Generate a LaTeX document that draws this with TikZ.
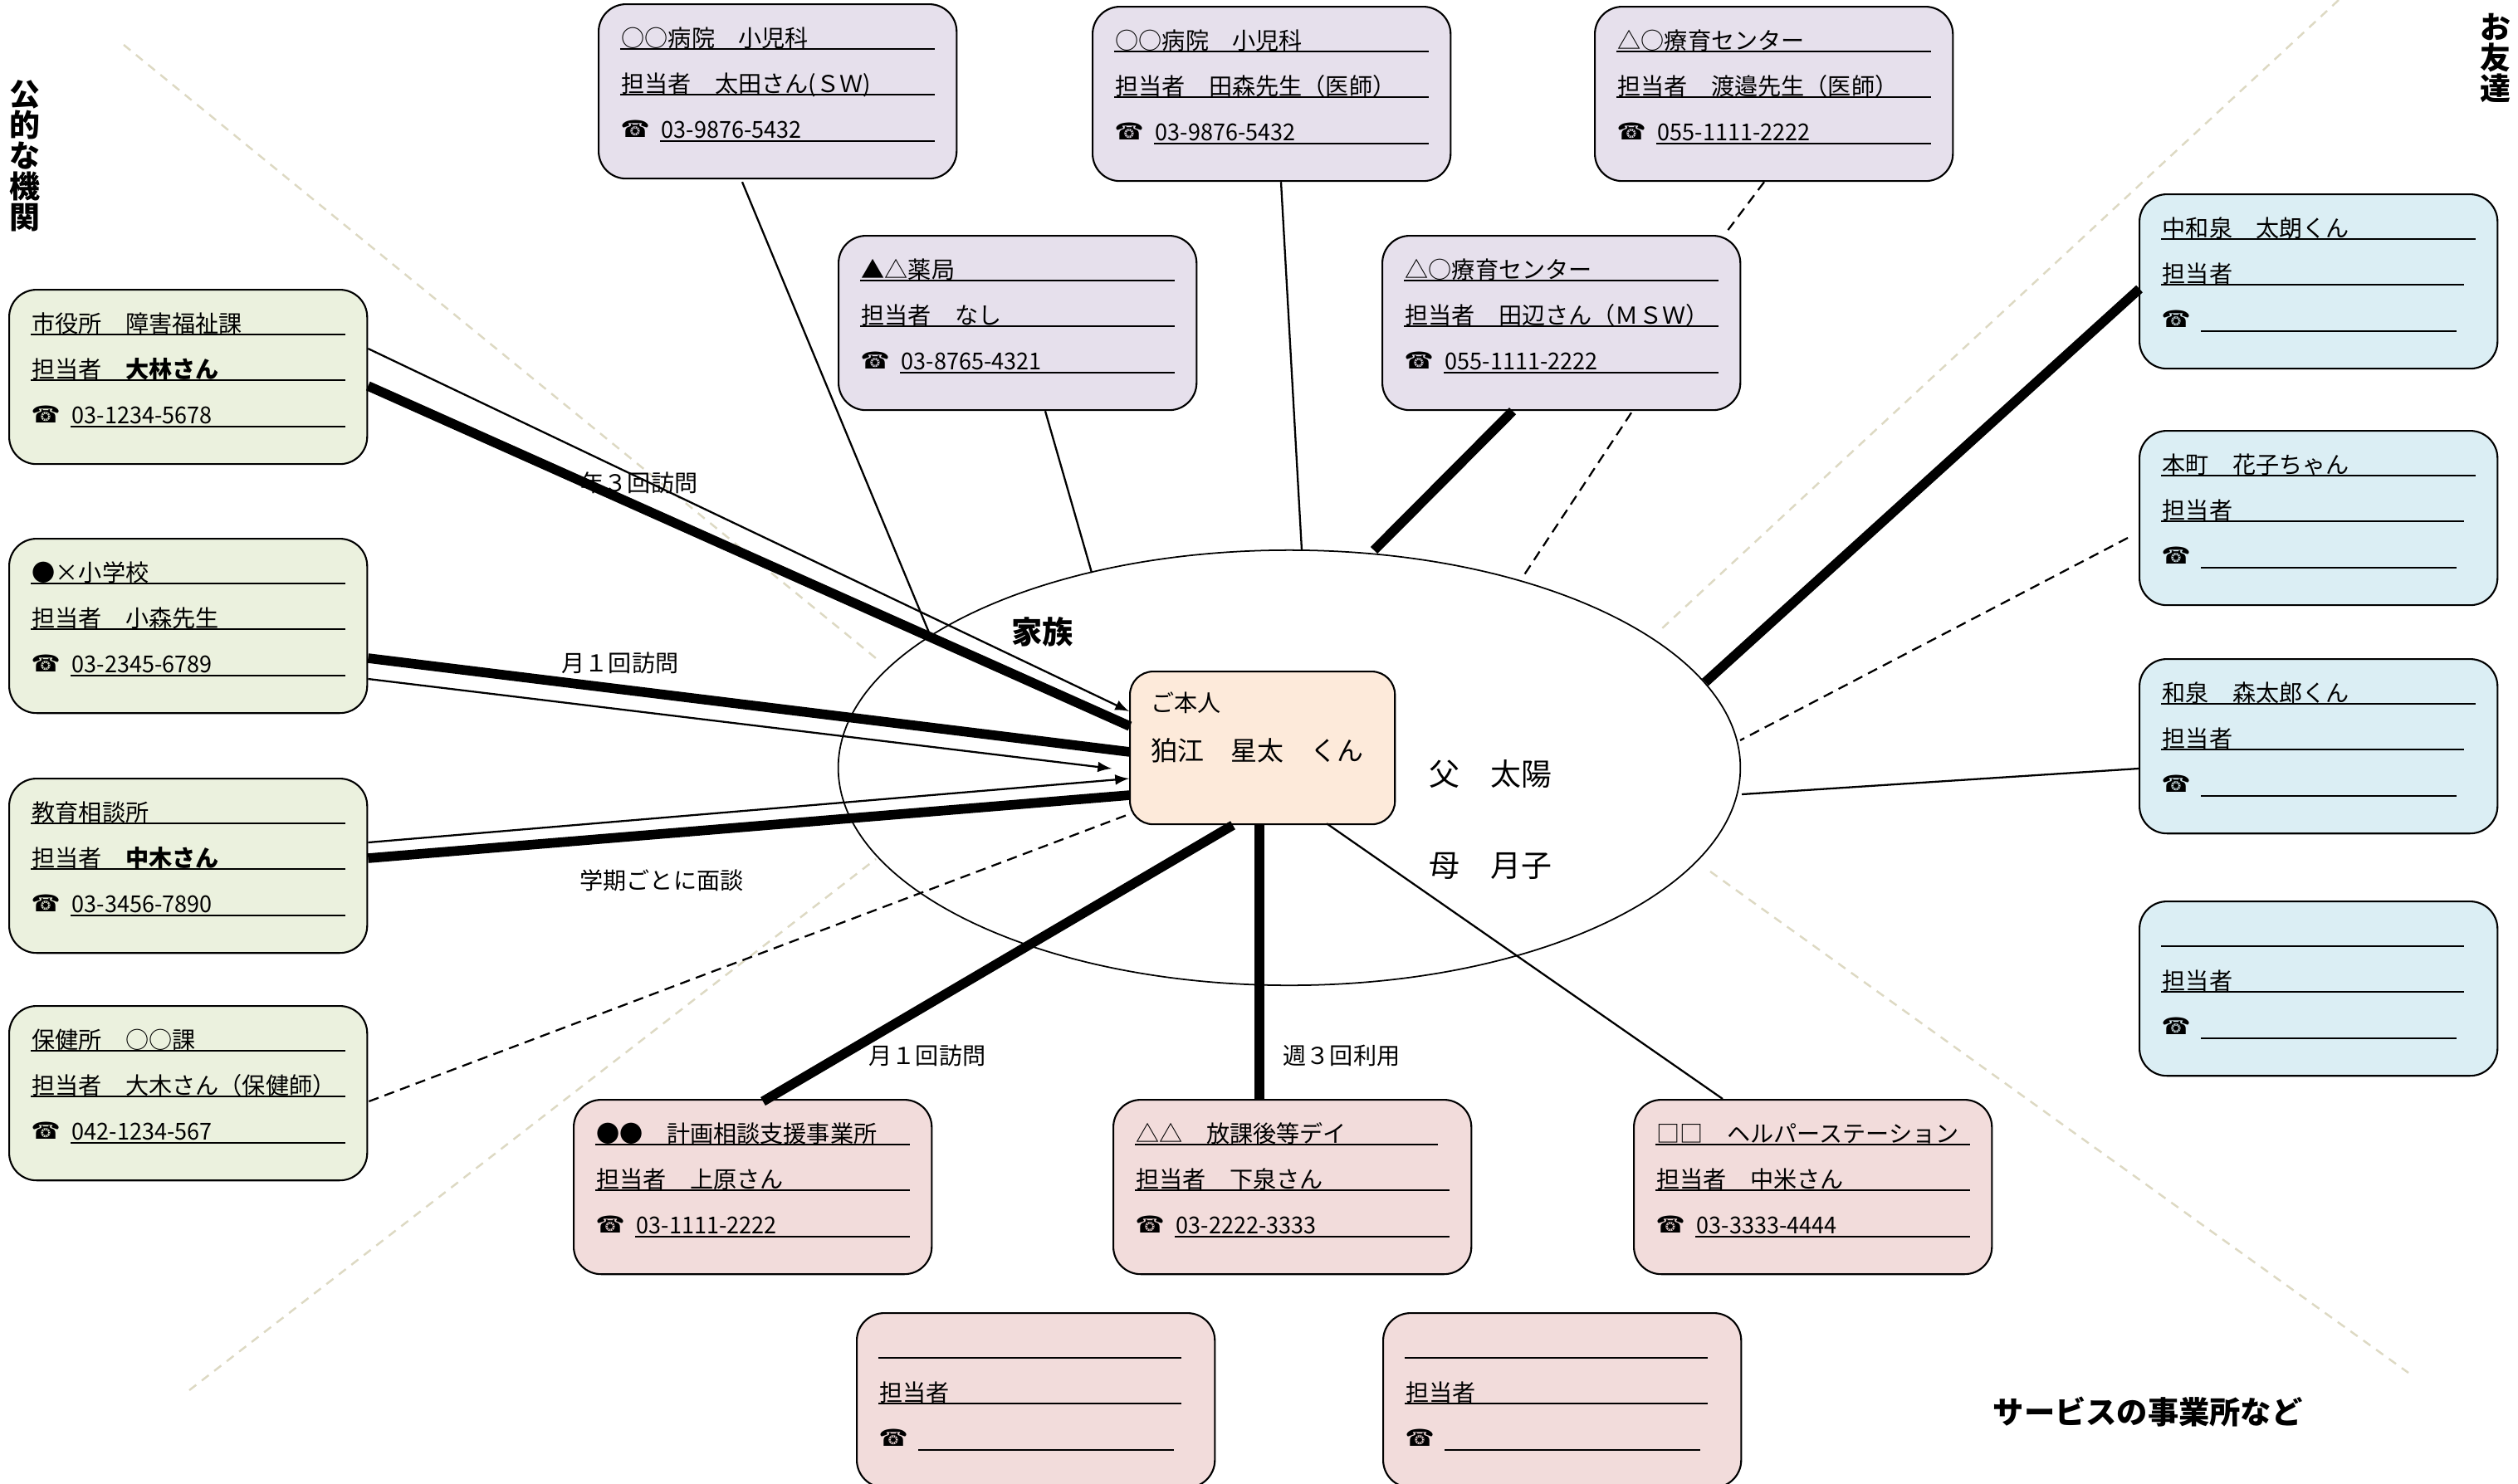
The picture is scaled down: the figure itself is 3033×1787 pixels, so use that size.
\documentclass[tikz,border=0pt]{standalone}
\usepackage{fontspec}
\setmainfont{Noto Sans CJK JP}
\newfontfamily\symfont{DejaVu Sans}
\newfontfamily\telfont[FakeStretch=0.96]{Noto Sans CJK JP}
\usetikzlibrary{shapes.geometric}

\definecolor{kouteki}{HTML}{EBF1DE}
\definecolor{iryou}{HTML}{E6E0EC}
\definecolor{tomo}{HTML}{DBEEF4}
\definecolor{jigyou}{HTML}{F2DCDB}
\definecolor{honnincol}{HTML}{FDEADA}
\definecolor{sen}{HTML}{DDD9C3}

\tikzset{
    card/.style={draw, rounded corners=0.33cm, anchor=north west, inner sep=0pt, line width=0.6pt,
        minimum width=4.31cm, minimum height=2.1cm},
    rowtext/.style={anchor=base west, inner sep=0pt, font=\fontsize{8pt}{10pt}\selectfont},
    rowline/.style={line width=0.6pt},
    bigtext/.style={anchor=base west, inner sep=0pt, font=\fontsize{10.5pt}{12pt}\selectfont},
    headtext/.style={anchor=base west, inner sep=0pt, font=\fontsize{10.6pt}{12pt}\selectfont\bfseries},
    sidetext/.style={anchor=north, inner sep=0pt, align=center, font=\fontsize{10.5pt}{10.5pt}\selectfont\bfseries},
    linktext/.style={inner sep=0pt, font=\fontsize{8pt}{10pt}\selectfont},
    thinlink/.style={line width=0.65pt},
    thicklink/.style={line width=3.3pt},
    dashlink/.style={line width=0.65pt, dash pattern=on 3.5pt off 2.2pt},
    arrowlink/.style={line width=0.65pt, ->, >=latex},
    divider/.style={draw=sen, line width=0.7pt, dash pattern=on 3pt off 2.4pt}
}

% name, position, colour, row 1, row 2, phone, lengths of the three rules
\newcommand{\contact}[9]{
    \node[card, fill=#3] (#1) at (#2) {};
    \node[rowtext] (#1-a) at ([shift={(28,52)}]#1.north west) {#4};
    \node[rowtext] (#1-b) at ([shift={(28,107)}]#1.north west) {#5};
    \node[rowtext] (#1-tel) at ([shift={(27,161)}]#1.north west) {\symfont ☎};
    \node[rowtext] (#1-c) at ([shift={(76,162)}]#1.north west) {\telfont #6};
    \draw[rowline] ([shift={(27,55)}]#1.north west) -- ++(#7,0);
    \draw[rowline] ([shift={(27,110)}]#1.north west) -- ++(#8,0);
    \draw[rowline] ([shift={(75,166)}]#1.north west) -- ++(#9,0);
}

\begin{document}
\begin{tikzpicture}[x=0.01cm, y=-0.01cm]
    \useasboundingbox (0,0) rectangle (3033,1787);

    % section dividers
    \draw[divider] (149,54) -- (1055,793);
    \draw[divider] (228,1675) -- (1055,1035);
    \draw[divider] (2817,0) -- (2001,758);
    \draw[divider] (2060,1050) -- (2901,1654);

    \node[draw, fill=white, ellipse, inner sep=0pt, line width=0.5pt,
        minimum width=10.86cm, minimum height=5.24cm] (family) at (1553,925) {};

    % public offices
    \contact{shiyakusho}{10,348}{kouteki}{市役所　障害福祉課}{担当者　\textbf{大林さん}}{03-1234-5678}{379}{379}{331}
    \contact{shougakkou}{10,648}{kouteki}{●×小学校}{担当者　小森先生}{03-2345-6789}{379}{379}{331}
    \contact{kyouiku}{10,937}{kouteki}{教育相談所}{担当者　\textbf{中木さん}}{03-3456-7890}{379}{379}{331}
    \contact{hokenjo}{10,1211}{kouteki}{保健所　○○課}{担当者　大木さん（保健師）}{042-1234-567}{379}{379}{331}

    % clinics
    \contact{byouin}{720,4}{iryou}{○○病院　小児科}{担当者　太田さん(ＳＷ)}{03-9876-5432}{379}{379}{331}
    \contact{shouni}{1315,7}{iryou}{○○病院　小児科}{担当者　田森先生（医師）}{03-9876-5432}{379}{379}{331}
    \contact{ryouikua}{1920,7}{iryou}{△○療育センター}{担当者　渡邉先生（医師）}{055-1111-2222}{379}{379}{331}
    \contact{yakkyoku}{1009,283}{iryou}{▲△薬局}{担当者　なし}{03-8765-4321}{379}{379}{331}
    \contact{ryouikub}{1664,283}{iryou}{△○療育センター}{担当者　田辺さん（ＭＳＷ）}{055-1111-2222}{379}{379}{331}

    % friends
    \contact{nakaizumi}{2576,233}{tomo}{中和泉　太朗くん}{担当者}{}{379}{365}{308}
    \contact{honmachi}{2576,518}{tomo}{本町　花子ちゃん}{担当者}{}{379}{365}{308}
    \contact{izumi}{2576,793}{tomo}{和泉　森太郎くん}{担当者}{}{379}{365}{308}
    \contact{tomoblank}{2576,1085}{tomo}{}{担当者}{}{365}{365}{308}

    % service providers
    \contact{keikaku}{690,1324}{jigyou}{●●　計画相談支援事業所}{担当者　上原さん}{03-1111-2222}{379}{379}{331}
    \contact{houkago}{1340,1324}{jigyou}{△△　放課後等デイ}{担当者　下泉さん}{03-2222-3333}{365}{379}{331}
    \contact{helper}{1967,1324}{jigyou}{□□　ヘルパーステーション}{担当者　中米さん}{03-3333-4444}{379}{379}{331}
    \contact{blanka}{1031,1581}{jigyou}{}{担当者}{}{365}{365}{308}
    \contact{blankb}{1665,1581}{jigyou}{}{担当者}{}{365}{365}{308}

    \node[card, fill=honnincol, rounded corners=0.28cm, minimum width=3.19cm, minimum height=1.84cm] (honnin) at (1360,808) {};
    \node[rowtext] (honnin-a) at ([shift={(26,49)}]honnin.north west) {ご本人};
    \node[rowtext, font=\fontsize{9.1pt}{11pt}\selectfont] (honnin-b) at ([shift={(26,108)}]honnin.north west) {狛江　星太　くん};

    % links
    \draw[arrowlink] ([shift={(0,72)}]shiyakusho.north east) -- ([shift={(0,49)}]honnin.north west);
    \draw[thicklink] ([shift={(0,117)}]shiyakusho.north east) -- ([shift={(1,67)}]honnin.north west);
    \draw[thicklink] ([shift={(0,145)}]shougakkou.north east) -- ([shift={(1,98)}]honnin.north west);
    \draw[arrowlink] ([shift={(0,170)}]shougakkou.north east) -- ([shift={(-21,118)}]honnin.north west);
    \draw[arrowlink] ([shift={(0,78)}]kyouiku.north east) -- ([shift={(0,130)}]honnin.north west);
    \draw[thicklink] ([shift={(0,97)}]kyouiku.north east) -- ([shift={(1,150)}]honnin.north west);
    \draw[dashlink] ([shift={(1,116)}]hokenjo.north east) -- ([shift={(0,173)}]honnin.north west);

    \draw[thinlink] ([shift={(174,3)}]byouin.south west) -- ([shift={(-434,-163)}]family.center);
    \draw[thinlink] ([shift={(228,0)}]shouni.south west) -- ([shift={(15,-262)}]family.center);
    \draw[dashlink] ([shift={(205,0)}]ryouikua.south west) -- ([shift={(413,0)}]ryouikub.north west);
    \draw[dashlink] ([shift={(301,2)}]ryouikub.south west) -- ([shift={(282,-231)}]family.center);
    \draw[thinlink] ([shift={(250,0)}]yakkyoku.south west) -- ([shift={(-238,-235)}]family.center);
    \draw[thicklink] ([shift={(158,0)}]ryouikub.south west) -- ([shift={(102,-262)}]family.center);

    \draw[thicklink] ([shift={(1,115)}]nakaizumi.north west) -- ([shift={(501,-103)}]family.center);
    \draw[dashlink] ([shift={(-13,130)}]honmachi.north west) -- ([shift={(543,-33)}]family.center);
    \draw[thinlink] ([shift={(0,133)}]izumi.north west) -- ([shift={(545,32)}]family.center);

    \draw[thicklink] ([shift={(125,0)}]honnin.south west) -- ([shift={(229,3)}]keikaku.north west);
    \draw[thicklink] ([shift={(157,0)}]honnin.south west) -- ([shift={(177,2)}]houkago.north west);
    \draw[thinlink] ([shift={(238,-2)}]honnin.south west) -- ([shift={(108,0)}]helper.north west);

    % labels
    \node[linktext] (nensan) at (770,582) {年３回訪問};
    \node[linktext] (tsukia) at (747,799) {月１回訪問};
    \node[linktext] (gakki) at (797,1061) {学期ごとに面談};
    \node[linktext] (tsukib) at (1117,1272) {月１回訪問};
    \node[linktext] (shuusan) at (1616,1272) {週３回利用};

    \node[headtext] (kazoku) at (1218,775) {家族};
    \node[bigtext] (chichi) at (1721,946) {父　太陽};
    \node[bigtext] (haha) at (1721,1056) {母　月子};
    \node[headtext] (service) at (2400,1715) {サービスの事業所など};
    \node[sidetext] (public) at (30,96) {公\\的\\な\\機\\関};
    \node[sidetext] (friends) at (3006,16) {お\\友\\達};
\end{tikzpicture}
\end{document}
